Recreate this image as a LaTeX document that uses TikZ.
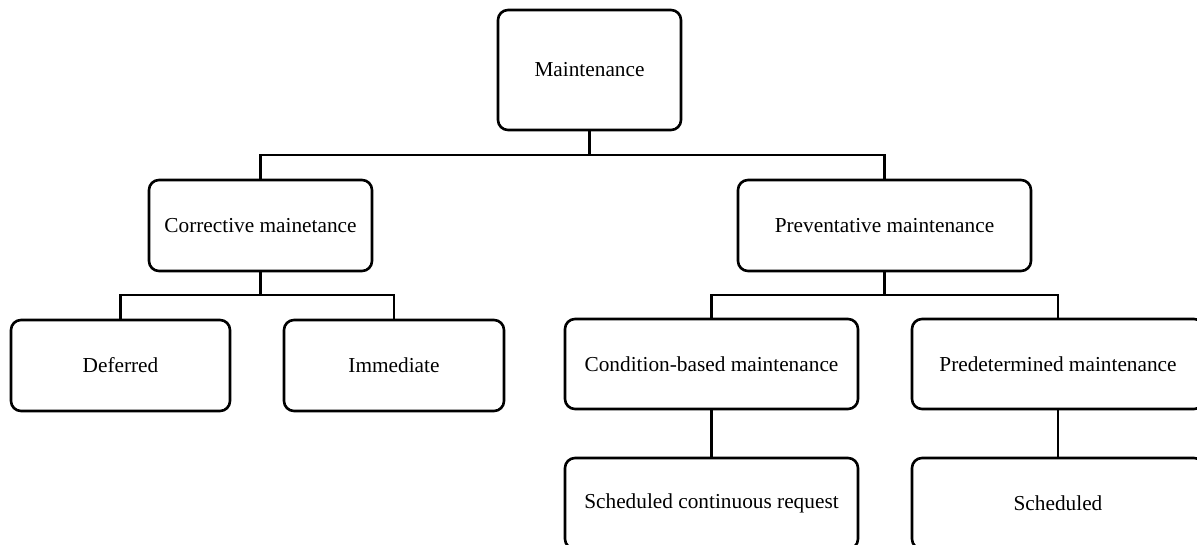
\documentclass[tikz,border=0pt]{standalone}
\usepackage{fontspec}
\setmainfont{Liberation Serif}
\begin{document}
\begin{tikzpicture}[x=1pt,y=-1pt,
  box/.style={draw=black, line width=2.6pt, rounded corners=10pt, fill=white,
    inner sep=0pt, align=center, font=\fontsize{21.3}{25}\selectfont},
  link/.style={draw=black, line width=2.2pt}]
\useasboundingbox (0,0) rectangle (1197,544);
\clip (0,0) rectangle (1197,544);
\fill[white] (0,0) rectangle (1197,544);

% tree links (drawn first so the boxes sit on top)
\coordinate (busA) at (589.5,155);
\coordinate (busC) at (260.5,295);
\coordinate (busP) at (884.5,295);

% boxes
\node[box, minimum width=183pt, minimum height=120pt] (M)  at (589.5,70)   {Maintenance};
\node[box, minimum width=223pt, minimum height=91pt]  (C)  at (260.5,225.5) {Corrective mainetance};
\node[box, minimum width=293pt, minimum height=91pt]  (P)  at (884.5,225.5) {Preventative maintenance};
\node[box, minimum width=219pt, minimum height=91pt]  (D)  at (120.5,365.5) {Deferred};
\node[box, minimum width=220pt, minimum height=91pt]  (I)  at (394,365.5)   {Immediate};
\node[box, minimum width=293pt, minimum height=90pt]  (CB) at (711.5,364)   {Condition-based maintenance};
\node[box, minimum width=292pt, minimum height=90pt]  (PD) at (1058,364)    {Predetermined maintenance};
\node[box, minimum width=293pt, minimum height=91pt]  (SC) at (711.5,503.5) {Scheduled continuous request};
\node[box, minimum width=292pt, minimum height=91pt]  (S)  at (1058,503.5)  {Scheduled};

% connectors
\draw[link] (M.south) -- (busA);
\draw[link] (C.north) |- (busA) -| (P.north);
\draw[link] (C.south) -- (busC);
\draw[link] (D.north) |- (busC) -| (I.north);
\draw[link] (P.south) -- (busP);
\draw[link] (CB.north) |- (busP) -| (PD.north);
\draw[link] (CB.south) -- (SC.north);
\draw[link] (PD.south) -- (S.north);
\end{tikzpicture}
\end{document}
